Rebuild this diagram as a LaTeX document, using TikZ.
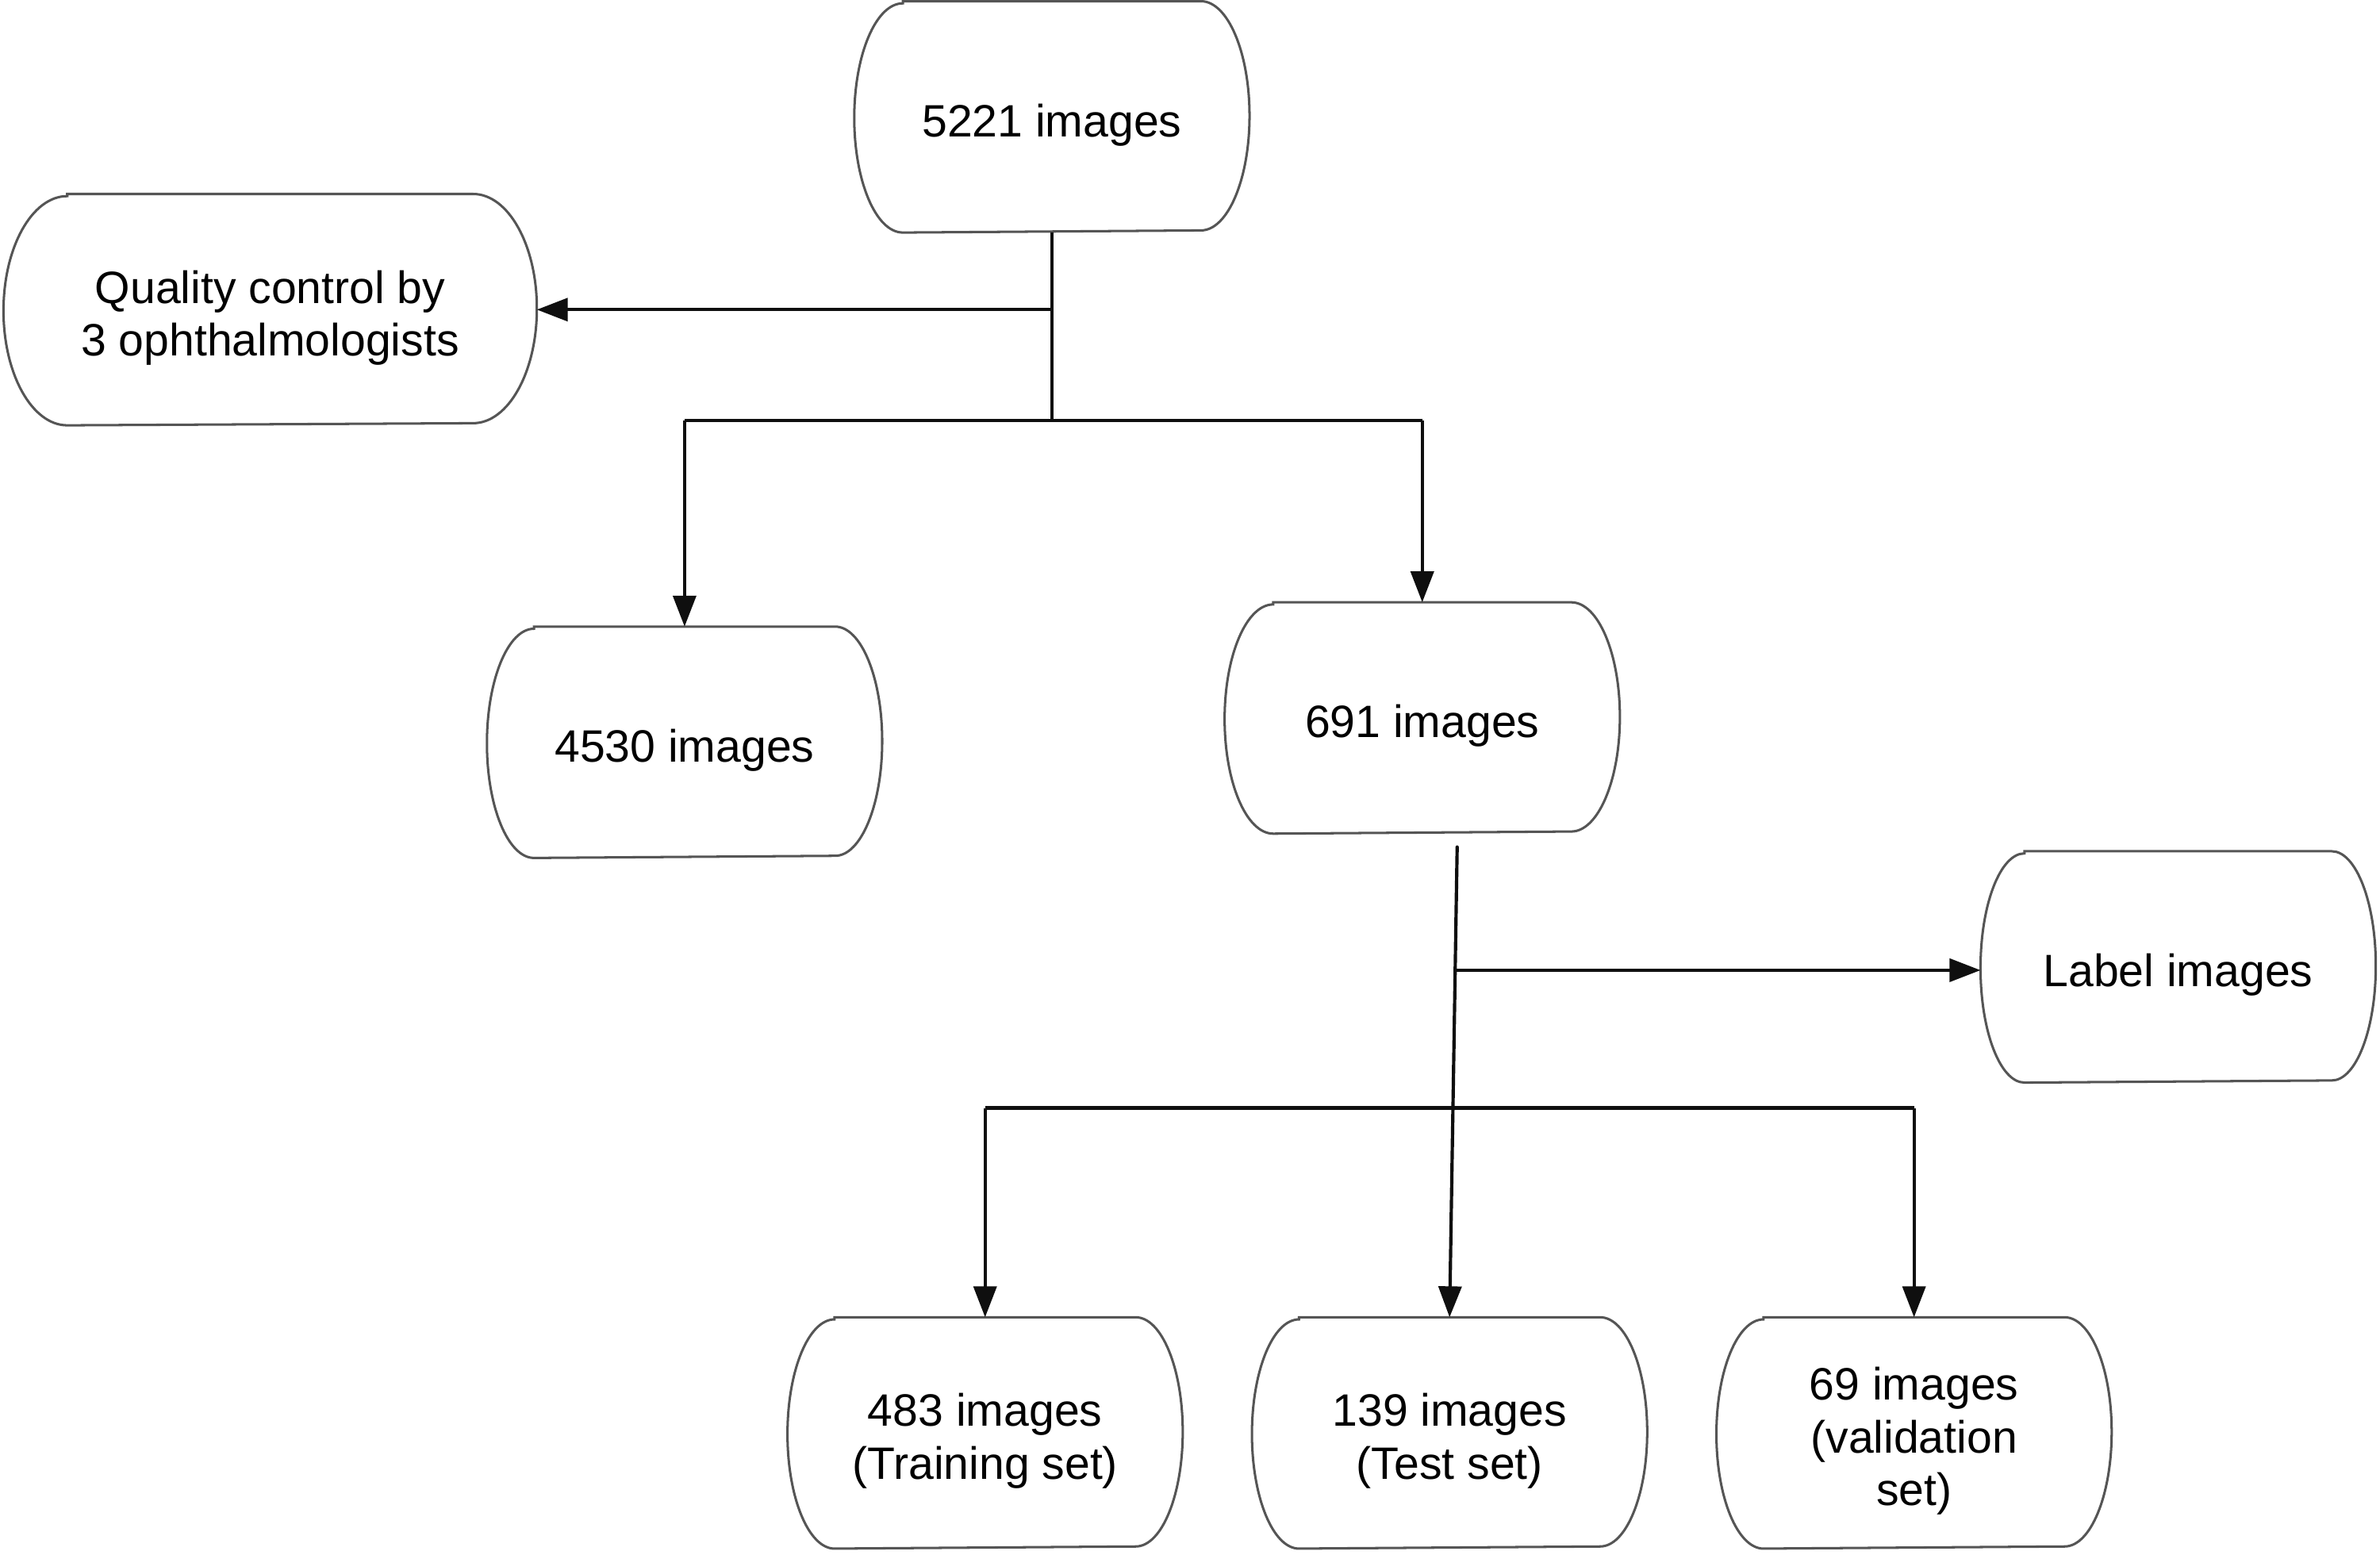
\documentclass[tikz,border=0pt]{standalone}
\usepackage{fontspec}
\setmainfont{Liberation Sans}
\usetikzlibrary{arrows.meta,calc}
\definecolor{boxgray}{RGB}{85,85,85}
\definecolor{linegray}{RGB}{15,15,15}
\newcommand{\boxstrut}{\rule{0pt}{9.2pt}}

\begin{document}
\begin{tikzpicture}[
    imgbox/.style={minimum width=2.59cm, minimum height=1.51cm, inner sep=2pt,
        align=center, font=\fontsize{8.5}{9.9}\selectfont},
    boxline/.style={draw=boxgray, line width=0.45pt},
    flow/.style={draw=linegray, line width=0.62pt},
    flowarrow/.style={flow, -{Triangle[length=5.8pt,width=4.3pt]}}
]

% Canvas
\useasboundingbox (0,0) rectangle (15.68,10.24);

% Boxes
\node[imgbox] (n5221) at (6.93,9.47) {\boxstrut 5221 images};
\node[imgbox, minimum width=3.50cm] (qc) at (1.78,8.20) {\boxstrut Quality control by\\3 ophthalmologists};
\node[imgbox] (n4530) at (4.51,5.35) {\boxstrut 4530 images};
\node[imgbox] (n691) at (9.37,5.51) {\boxstrut 691 images};
\node[imgbox] (label) at (14.35,3.87) {\boxstrut Label images};
\node[imgbox] (train) at (6.49,0.80) {\boxstrut 483 images\\(Training set)};
\node[imgbox] (test) at (9.55,0.80) {\boxstrut 139 images\\(Test set)};
\node[imgbox] (valid) at (12.61,0.80) {\boxstrut 69 images\\(validation\\set)};

% Box outlines (flat top and bottom, bulging sides)
\foreach \n/\r in {n5221/0.32, qc/0.42, n4530/0.31, n691/0.32, label/0.29,
                   train/0.31, test/0.31, valid/0.31} {
    \draw[boxline] ([xshift=\r cm]\n.north west) -- ([xshift=-\r cm]\n.north east)
        arc[start angle=90, end angle=-90, x radius=\r cm, y radius=0.755cm]
        -- ([xshift=\r cm]\n.south west)
        arc[start angle=270, end angle=90, x radius=\r cm, y radius=0.755cm] -- cycle;
}

% First split
\coordinate (qcsplit) at (n5221.south |- qc.east);
\coordinate (split1) at ($(n5221.south)+(0,-1.24)$);
\draw[flow] (n5221.south) -- (split1);
\draw[flowarrow] (qcsplit) -- (qc.east);
\draw[flow] (split1 -| n4530.north) -- (split1 -| n691.north);
\foreach \n in {n4530, n691} {
    \draw[flowarrow] (split1 -| \n.north) -- (\n.north);
}

% Second split
\coordinate (trunktop) at (9.60,4.66);
\draw[flowarrow, line cap=round] (trunktop) -- (test.north);
\coordinate (lblsplit) at ($(trunktop)!0.262!(test.north)$);
\draw[flowarrow] (lblsplit) -- (lblsplit -| label.west);
\coordinate (split2) at ($(trunktop)!0.555!(test.north)$);
\draw[flow] (split2 -| train.north) -- (split2 -| valid.north);
\foreach \n in {train, valid} {
    \draw[flowarrow] (split2 -| \n.north) -- (\n.north);
}

\end{tikzpicture}
\end{document}
